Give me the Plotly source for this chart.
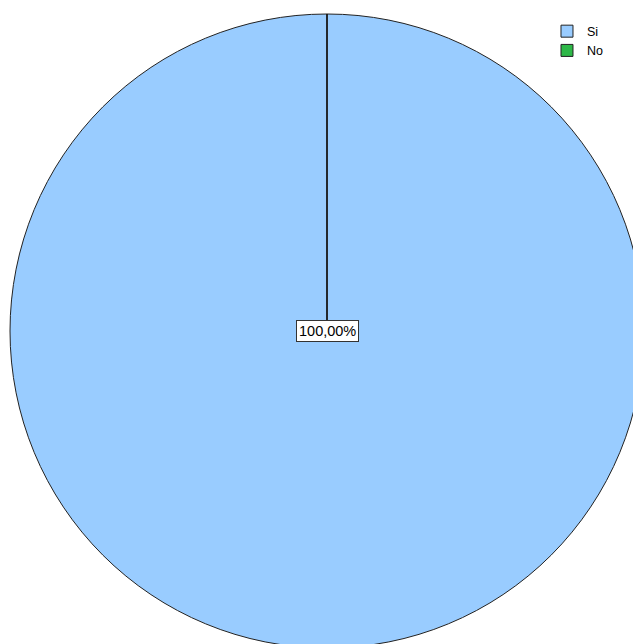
import plotly.graph_objects as go

labels = ["Si", "No"]
values = [100.0, 0.0]
colors = ["#99CCFF", "#2EB848"]

total = sum(values)
pct_text = f"{values[0] / total * 100:.2f}%".replace(".", ",")

fig = go.Figure()
fig.add_trace(go.Pie(
    labels=labels,
    values=values,
    sort=False,
    direction="counterclockwise",
    rotation=0,
    textinfo="none",
    hoverinfo="label+percent",
    marker=dict(colors=colors, line=dict(color="#222222", width=1)),
    domain=dict(x=[0, 1], y=[0, 1]),
))

# slice boundary from pie centre to top
fig.add_shape(type="line", xref="paper", yref="paper",
              x0=0.5, y0=0.5, x1=0.5, y1=1.0,
              line=dict(color="#111111", width=1.2))

fig.add_annotation(xref="paper", yref="paper", x=0.5, y=0.5,
                   text=pct_text, showarrow=False,
                   font=dict(family="Liberation Sans, Arial", size=14.5, color="#000000"),
                   bgcolor="#FFFFFF", bordercolor="#333333", borderwidth=1, borderpad=2)

fig.update_layout(
    width=644, height=648,
    margin=dict(l=10, r=0, t=14, b=0),
    paper_bgcolor="#FFFFFF",
    plot_bgcolor="#FFFFFF",
    font=dict(family="Liberation Sans, Arial", size=12, color="#000000"),
    showlegend=True,
    legend=dict(x=0.847, y=0.996, xanchor="left", yanchor="top",
                bgcolor="rgba(0,0,0,0)", borderwidth=0,
                font=dict(size=12.5), tracegroupgap=0, itemwidth=30),
)

fig.write_html("out.html",
               config={"displayModeBar": False},
               post_script="document.body.style.margin='0';document.body.style.overflow='hidden';document.documentElement.style.overflow='hidden';")
